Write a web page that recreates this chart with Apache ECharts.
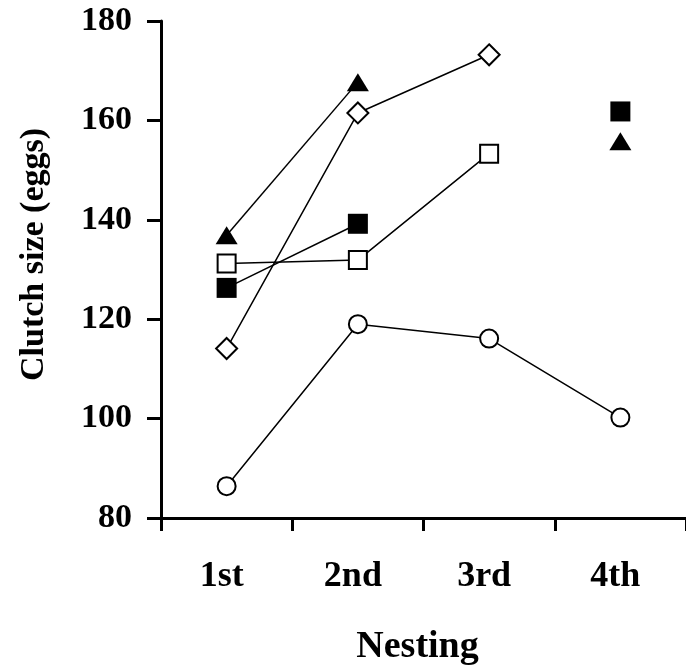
<!DOCTYPE html>
<html>
<head>
<meta charset="utf-8">
<script src="https://cdn.jsdelivr.net/npm/echarts@6/dist/echarts.min.js"></script>
<style>html,body{margin:0;padding:0;background:#fff;}#c{width:686px;height:671px;}</style>
</head>
<body>
<div id="c"></div>
<script>
const categories = ['1st', '2nd', '3rd', '4th'];
const openCircles = [86.4, 119.0, 116.1, 100.2];
const openDiamonds = [114.1, 161.5, 173.2, null];
const openSquares = [131.2, 131.9, 153.3, null];
const filledSquares = [126.3, 139.2, null, 161.8];
const filledTriangles = [136.9, 167.7, null, 155.8];
const yTicks = { min: 80, max: 180, interval: 20 };

const font = 'Liberation Serif';
function mk(name, data, symbol, size, filled) {
  return {
    name: name, type: 'line', data: data, symbol: symbol, symbolSize: size,
    connectNulls: false, showAllSymbol: true,
    lineStyle: { color: '#000', width: 1.5 },
    itemStyle: { color: filled ? '#000' : '#fff', borderColor: '#000', borderWidth: filled ? 0 : 2 },
    emphasis: { disabled: true }, animation: false, z: 2
  };
}
const chart = echarts.init(document.getElementById('c'));
chart.setOption({
  backgroundColor: '#fff',
  animation: false,
  grid: { left: 161, right: 0, top: 21, bottom: 152, containLabel: false },
  xAxis: {
    type: 'category', data: categories, boundaryGap: true,
    name: 'Nesting', nameLocation: 'middle', nameGap: 110,
    nameTextStyle: { fontFamily: font, fontWeight: 'bold', fontSize: 38, color: '#000', padding: [0, 12, 0, 0] },
    axisLine: { lineStyle: { color: '#000', width: 3 } },
    axisTick: { show: true, alignWithLabel: false, length: 13, lineStyle: { color: '#000', width: 3 } },
    axisLabel: { fontFamily: font, fontWeight: 'bold', fontSize: 36, color: '#000', margin: 41, padding: [0, 10, 0, 0] },
    splitLine: { show: false }
  },
  yAxis: {
    type: 'value', min: yTicks.min, max: yTicks.max, interval: yTicks.interval,
    name: 'Clutch size (eggs)', nameLocation: 'middle', nameGap: 110, nameRotate: 90,
    nameTextStyle: { fontFamily: font, fontWeight: 'bold', fontSize: 34, color: '#000', padding: [0, 0, 0, 30] },
    axisLine: { show: true, lineStyle: { color: '#000', width: 3 } },
    axisTick: { show: true, length: 14, lineStyle: { color: '#000', width: 3 } },
    axisLabel: { fontFamily: font, fontWeight: 'bold', fontSize: 34, color: '#000', margin: 29 },
    splitLine: { show: false }
  },
  series: [
    mk('circles', openCircles, 'circle', 18, false),
    mk('diamonds', openDiamonds, 'diamond', 21, false),
    mk('openSquares', openSquares, 'rect', 18, false),
    mk('filledSquares', filledSquares, 'rect', 20, true),
    mk('triangles', filledTriangles, 'triangle', [22, 18], true)
  ]
});
</script>
</body>
</html>
